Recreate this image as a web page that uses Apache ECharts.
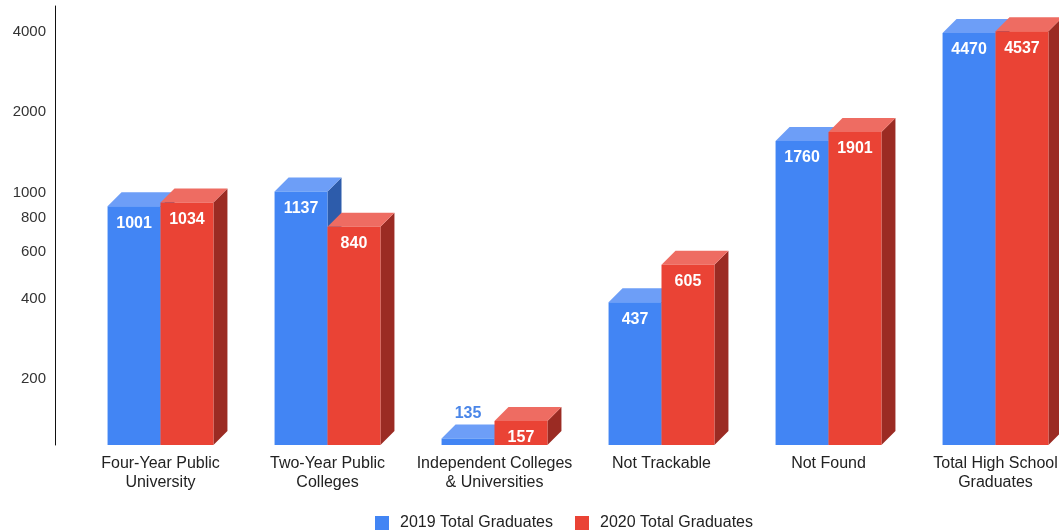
<!DOCTYPE html>
<html>
<head>
<meta charset="utf-8">
<script src="https://cdn.jsdelivr.net/npm/echarts@6/dist/echarts.min.js"></script>
<style>
  html, body { margin: 0; padding: 0; background: #fff; overflow: hidden; }
  #chart { width: 1079px; height: 531px; }
</style>
</head>
<body>
<div id="chart"></div>
<script>
// Graduate outcomes by destination, two cohorts
const categories = [
  'Four-Year Public\nUniversity',
  'Two-Year Public\nColleges',
  'Independent Colleges\n& Universities',
  'Not Trackable',
  'Not Found',
  'Total High School\nGraduates'
];
const grads2019 = [1001, 1137, 135, 437, 1760, 4470];
const grads2020 = [1034, 840, 157, 605, 1901, 4537];
const yTicks = [200, 400, 600, 800, 1000, 2000, 4000];
const seriesNames = ['2019 Total Graduates', '2020 Total Graduates'];

const Y_MIN = 113;
const Y_MAX = 5000;
const DX = 14;   // depth offset to the right
const DY = 14;   // depth offset upward

const AXIS_FONT = '"Liberation Sans", Arial, sans-serif';
const VALUE_FONT = 'bold 16px "Liberation Sans", Arial, sans-serif';

const palettes = [
  { front: '#4285F4', top: '#6d9ef7', side: '#2d5cab', label: '#4a86e8' },
  { front: '#EA4335', top: '#ee6c62', side: '#9b2b23', label: '#EA4335' }
];

function makeRender(slot) {
  const pal = palettes[slot];
  return function (params, api) {
    const idx = api.value(0);
    const val = api.value(1);
    const top = api.coord([idx, val]);
    const base = api.coord([idx, Y_MIN]);
    const band = api.size([1, 0])[0];
    const w = band * 0.317;
    const x0 = slot === 0 ? top[0] - w : top[0];
    const x1 = x0 + w;
    const yb = top[1];
    const yf = yb + DY;
    const bottom = base[1];
    const children = [
      {
        type: 'polygon',
        shape: { points: [[x1, yf], [x1 + DX, yb], [x1 + DX, bottom - DY], [x1, bottom]] },
        style: { fill: pal.side }
      },
      {
        type: 'polygon',
        shape: { points: [[x0, yf], [x0 + DX, yb], [x1 + DX, yb], [x1, yf]] },
        style: { fill: pal.top }
      },
      {
        type: 'rect',
        shape: { x: x0, y: yf, width: w, height: bottom - yf },
        style: { fill: pal.front }
      }
    ];
    const inside = bottom - yf > 18;
    children.push({
      type: 'text',
      style: {
        text: String(val),
        x: (x0 + x1) / 2,
        y: inside ? yf + 17 : yb - 11,
        align: 'center',
        verticalAlign: 'middle',
        fill: inside ? '#ffffff' : pal.label,
        font: VALUE_FONT
      }
    });
    return { type: 'group', children: children };
  };
}

const chart = echarts.init(document.getElementById('chart'), null, { renderer: 'canvas' });

chart.setOption({
  animation: false,
  backgroundColor: '#ffffff',
  textStyle: { fontFamily: AXIS_FONT },
  grid: { left: 77, right: 0, top: 6, bottom: 86, containLabel: false },
  legend: {
    left: 370,
    top: 510,
    icon: 'rect',
    itemWidth: 14,
    itemHeight: 14,
    itemGap: 22,
    textStyle: { fontSize: 16, color: '#222', fontFamily: AXIS_FONT, padding: [0, 0, 0, 6] },
    data: seriesNames
  },
  xAxis: {
    type: 'category',
    data: categories,
    axisLine: { show: false },
    axisTick: { show: false },
    axisLabel: { fontSize: 16, color: '#222', fontFamily: AXIS_FONT, lineHeight: 19, margin: 9, interval: 0 }
  },
  yAxis: {
    type: 'log',
    logBase: 10,
    min: Y_MIN,
    max: Y_MAX,
    offset: 22,
    axisLine: { show: true, lineStyle: { color: '#111', width: 1 } },
    axisTick: { show: false },
    splitLine: { show: false },
    axisLabel: {
      customValues: yTicks,
      fontSize: 15,
      color: '#333',
      fontFamily: AXIS_FONT,
      margin: 9,
      formatter: (v) => String(Math.round(v))
    }
  },
  series: [
    {
      name: seriesNames[0],
      type: 'custom',
      renderItem: makeRender(0),
      itemStyle: { color: palettes[0].front },
      clip: false,
      data: grads2019.map((v, i) => [i, v])
    },
    {
      name: seriesNames[1],
      type: 'custom',
      renderItem: makeRender(1),
      itemStyle: { color: palettes[1].front },
      clip: false,
      data: grads2020.map((v, i) => [i, v])
    }
  ]
});
</script>
</body>
</html>
